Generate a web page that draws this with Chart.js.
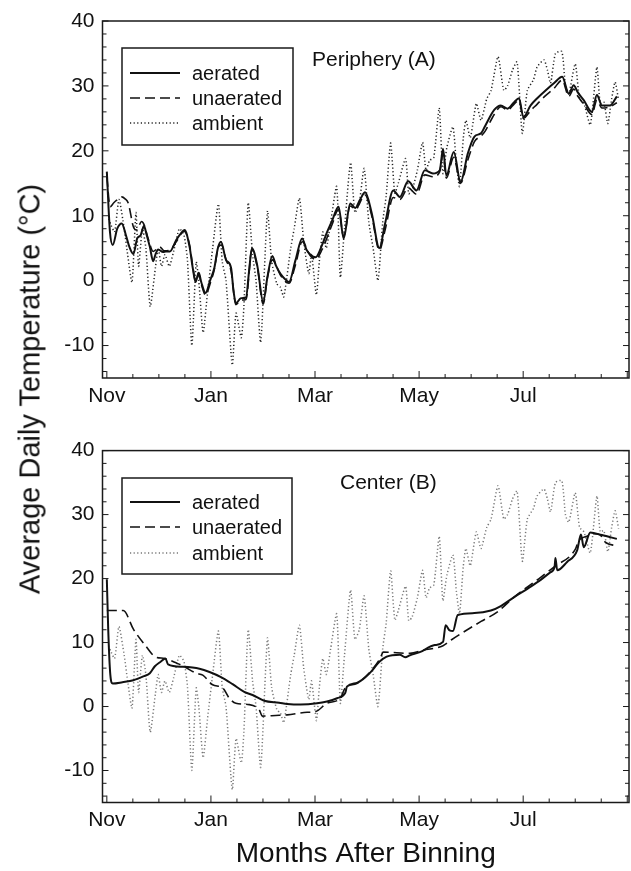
<!DOCTYPE html>
<html>
<head>
<meta charset="utf-8">
<script src="https://cdn.jsdelivr.net/npm/chart.js@4"></script>
<style>
  body { margin: 0; background: #fff; width: 631px; height: 871px; position: relative; overflow: hidden; }
  .panel { position: absolute; left: 0; }
  #top { top: 0; }
  #bottom { top: 430px; }
  #ytitle {
    position: absolute; left: 30px; top: 389px;
    transform: translate(-50%, -50%) rotate(-90deg);
    white-space: nowrap; font: 29px "Liberation Sans", Arial, sans-serif; color: #111;
  }
</style>
</head>
<body>
<div class="panel" id="top"><canvas id="chartA" width="631" height="430"></canvas></div>
<div class="panel" id="bottom"><canvas id="chartB" width="631" height="441"></canvas></div>
<div id="ytitle">Average Daily Temperature (°C)</div>
<script>
// days after binning (x) and average daily temperature (y)
const monthDays = [0, 60, 120, 180, 240];
const monthNames = ["Nov", "Jan", "Mar", "May", "Jul"];
const tempTicks = [-10, 0, 10, 20, 30, 40];

const ambientDays = [1, 2.5, 4.5, 7, 10, 12, 14.5, 16.8, 18.3, 20.5, 22.5, 25, 28, 29.6, 31.5, 33.5, 36, 38.5, 41.8, 44.5,
  46.5, 49, 51.5, 53, 55.5, 58, 61, 64.3, 66.5, 68.7, 72.3, 74.5, 77.5, 79, 81.5, 84, 86, 88.7, 92.6, 95,
  98, 100, 102, 106, 108, 111, 113.5, 116.4, 118, 120.8, 122.5, 124.5, 126.5, 129, 132.5, 134.6, 137, 140.5, 143, 145.5,
  148.3, 151, 153.5, 156.3, 159, 161, 163.6, 166, 168, 172.2, 174, 176, 179, 182, 184, 186, 188.5, 191.6, 193.7, 196,
  199.5, 201.5, 203.3, 205.5, 207, 209.5, 213, 215.7, 219, 221.5, 225.5, 228.8, 231, 233.8, 236.5, 239.5, 242.4, 246, 248, 252,
  254, 255.8, 258.6, 262.3, 264.4, 266.3, 270, 272.5, 275, 278.7, 282.5, 284.4, 286.5, 288.8, 291, 293, 295];
const ambientTemps = [9.5, 8.5, 7.5, 12.5, 8, 4, -0.3, 10.5, 2.2, 8, 5, -4, 2, 5, 2.2, 4, 2.2, 4.5, 8, 7,
  3, -10, 2.9, 0, -8, -2, 5, 11.8, 3, 0, -13, -5, -8.8, -4, 12, 4, 0, -9.5, 10.7, 3,
  -0.5, -1, -2.5, 5, 8, 12.7, 6, 1.1, 4, -2.2, 3, 7.5, 5, 9, 14.5, 0.5, 8, 18.2, 10.5, 12,
  17.3, 9, 5, 0, 9, 13, 21.2, 13.5, 15, 18.8, 13.4, 14, 17, 21.3, 17, 18.5, 19, 26.6, 16.5, 20.5,
  23.7, 18, 14.5, 22, 24.7, 22, 27.3, 24.7, 28, 29.3, 34.5, 29.3, 30, 32.4, 33.7, 22.7, 29.3, 31, 32.9, 34,
  32.4, 30.4, 35, 35.3, 29.9, 28.8, 33.4, 28, 27.3, 24, 32.9, 27.3, 27.5, 24.2, 28, 30.6, 27.8];

const periAeratedDays = [0, 1.8, 3.4, 6, 8.6, 11, 13, 15.3, 17.5, 19.5, 21.4, 23, 24.8, 26.7, 28, 29.6, 32.4, 34, 36.3, 40.1,
  42.5, 44.8, 47.7, 49.5, 51.1, 53, 54.4, 56.9, 59.5, 62, 64, 65.8, 68.7, 71.6, 73, 74.4, 77.3, 80.2, 82, 83.6,
  86.8, 90.1, 92.6, 95.4, 97.5, 100.2, 102.5, 105, 108.8, 112.6, 115, 117.4, 120.3, 124.1, 127, 129.8, 133.6, 136.5, 140.3, 143.2,
  146, 148.9, 152.7, 157.1, 160.4, 165.1, 168.9, 173.7, 178.5, 183.3, 188, 191.9, 193.8, 195.7, 200, 203.9, 208.1, 211.9, 215.7, 218,
  223.3, 227.1, 231, 234.8, 237.6, 240.1, 244.3, 248.1, 252.9, 257.7, 262.5, 266.3, 269.1, 271.5, 274.9, 279.6, 282.5, 285.4, 290.1, 294];
const periAeratedTemps = [16.8, 7.5, 5.5, 8, 8.8, 7, 5.2, 4.1, 6.5, 7, 8.4, 7, 5.2, 3, 4, 4.8, 4.4, 4.5, 4.5, 6.3,
  7.2, 7.8, 5.2, 2, -0.2, 1.2, -0.2, -1.9, 0, 2, 5, 6, 3.2, 2, -1.5, -3.5, -2.7, -2.6, 1.5, 5,
  2.2, -3.3, 0.6, 3.8, 2.3, 1, 0.3, -0.2, 3.2, 6.5, 4.8, 4, 3.6, 5.5, 7.5, 9.2, 11.4, 6.5, 11.9, 11.2,
  12.5, 13.6, 10.4, 5, 8.8, 13.9, 12.9, 15.3, 13.9, 17, 16.5, 17, 20.3, 16.2, 19.8, 15.2, 19.6, 22.2, 22.7, 23.8,
  26.3, 27, 26.5, 27.5, 28.1, 25.2, 27, 28.1, 29.3, 30.4, 31.4, 28.8, 30.1, 29, 27.8, 26, 28.6, 27, 27, 28.4];

const periUnaeratedDays = [0, 1.9, 4, 5.7, 8.6, 10.5, 12.4, 15.3, 17.2, 20, 21.5, 23.8, 26.7, 30.5, 33, 36.3, 40, 44.5, 47.7, 49.5,
  51.1, 53, 54.4, 56.9, 59.5, 62, 64.3, 66, 69, 71.6, 74.4, 77.3, 80.2, 83.6, 86.8, 90.1, 92.6, 95.4, 100.2, 105,
  108.8, 112.6, 117.4, 120.3, 124.1, 129.8, 133.6, 136.5, 140.3, 143.2, 148.9, 152.7, 157.1, 160.4, 165.1, 168.9, 173.7, 178.5, 183.3, 188,
  191.9, 193.8, 195.7, 200, 203.9, 208.1, 211.9, 215.7, 218, 223.3, 227.1, 231, 234.8, 237.6, 240.1, 244.3, 248.1, 252.9, 257.7, 262.5,
  266.3, 269.1, 271.5, 274.9, 279.6, 282.5, 285.4, 290.1, 294];
const periUnaeratedTemps = [16, 11.4, 12, 12.4, 12.9, 12.6, 11.9, 8.3, 7.8, 9.1, 8.6, 6.5, 4.5, 5.2, 4.6, 4.7, 6, 7.6, 5.5, 2.3,
  0, 1, -0.5, -2.2, -0.5, 1.8, 5.2, 5.5, 3, 1.5, -3.7, -3, -2.9, 4.7, 2, -3.6, 0.5, 3.2, 0.8, -0.4,
  2.5, 6, 3.8, 3.3, 4.8, 8.6, 11, 6.8, 11.5, 11, 13.2, 10, 4.7, 7.8, 12.8, 12.5, 14.3, 13.3, 16.3, 16,
  16.8, 19.5, 15.8, 19, 15, 18.6, 21.4, 22.3, 23, 25.6, 26.8, 26.3, 27.2, 27.8, 25, 26.2, 27.2, 28.5, 29.6, 30.9,
  28.4, 29.5, 28.4, 27.2, 25.6, 27.8, 26.6, 26.8, 27.4];

const centerAeratedDays = [0, 0.8, 2, 3.4, 9, 15.3, 21, 24.8, 27.7, 31, 33.8, 35.3, 43.9, 53.4, 59.2, 65.8, 72.5, 79.2, 84, 90.7,
  99.3, 104, 111.7, 121.2, 126.9, 132.7, 137.4, 138.4, 144.1, 151.8, 157.1, 161.3, 168.9, 172, 174.7, 180.4, 189, 193.8, 195.3, 197.6,
  199.5, 202.3, 211.9, 221.4, 227.1, 234.8, 242.4, 250.1, 255.8, 258.1, 258.6, 259.6, 265.3, 271.1, 273.3, 274.9, 278.7, 285.4, 294];
const centerAeratedTemps = [19.9, 12, 5, 3.6, 3.8, 4.1, 4.7, 5.2, 6.3, 7, 7.5, 6.6, 6.2, 5.9, 5.4, 4.6, 3.5, 2.3, 1.8, 0.9,
  0.6, 0.4, 0.3, 0.5, 0.8, 1.3, 2.1, 3.1, 3.7, 5.3, 7, 7.8, 8.1, 7.7, 8, 8.5, 9.6, 10.1, 12.7, 11.9,
  11.8, 14.3, 14.6, 15, 15.7, 17.1, 18.4, 19.8, 21, 21.8, 23.2, 21.3, 22.6, 24.4, 26.9, 24.9, 27.2, 26.8, 26.2];

const centerUnaeratedDays = [0, 9.5, 15.3, 22.9, 27.7, 33.4, 40.1, 44.8, 51.5, 55.3, 61, 66.8, 70.6, 74.4, 82.1, 87.8, 89.7, 97.3, 104, 115.5,
  120.3, 126.9, 134.6, 137.4, 144.1, 151.8, 157.5, 159.4, 174.7, 182.3, 193.8, 198.5, 215.7, 225.2, 234.8, 250.1, 257.7, 270.1, 272, 276.8,
  280.6, 284.4, 287.3, 294];
const centerUnaeratedTemps = [15, 15, 12.1, 9.3, 7.8, 7.5, 6.8, 6.2, 5.2, 4.9, 3.4, 2.9, 1.3, 0.5, 0.3, -0.5, -1.5, -1.4, -1.3, -0.9,
  -0.8, 0.5, 1.3, 2.9, 3.6, 5.4, 7.5, 8.5, 8.3, 8.8, 9.5, 10.4, 13.3, 14.8, 17.1, 20.2, 21.8, 24.6, 25.9, 26.6,
  27, 26.8, 25.7, 25.1];

const FONT = '"Liberation Sans", Arial, Helvetica, sans-serif';
const INK = "#111";

function toPoints(days, temps) {
  return days.map((d, i) => ({ x: d, y: temps[i] }));
}

// frame with inward ticks, legend box and panel label
const panelDecor = {
  id: "panelDecor",
  afterDatasetsDraw(chart, args, opts) {
    const { ctx, chartArea: a } = chart;
    const x = chart.scales.x;
    const y = chart.scales.y;
    ctx.save();
    ctx.strokeStyle = "#1a1a1a";
    ctx.lineWidth = 1.5;
    ctx.strokeRect(a.left, a.top, a.right - a.left, a.bottom - a.top);

    ctx.lineWidth = 1;
    ctx.beginPath();
    for (let v = -14; v <= 40; v += 2) {
      const py = y.getPixelForValue(v);
      const len = v % 10 === 0 ? 6 : 4;
      ctx.moveTo(a.left, py); ctx.lineTo(a.left + len, py);
      ctx.moveTo(a.right, py); ctx.lineTo(a.right - len, py);
    }
    for (let d = 0; d <= 300; d += 15) {
      const px = x.getPixelForValue(d);
      const len = d % 60 === 0 ? 7 : 4;
      ctx.moveTo(px, a.bottom); ctx.lineTo(px, a.bottom - len);
    }
    ctx.stroke();

    // legend
    const b = opts.box;
    ctx.fillStyle = "#fff";
    ctx.fillRect(b[0], b[1], b[2] - b[0], b[3] - b[1]);
    ctx.lineWidth = 1.5;
    ctx.strokeStyle = "#1a1a1a";
    ctx.strokeRect(b[0], b[1], b[2] - b[0], b[3] - b[1]);
    ctx.font = "20px " + FONT;
    ctx.textBaseline = "middle";
    ctx.textAlign = "left";
    chart.data.datasets.forEach((ds, i) => {
      const ry = opts.rows[i];
      ctx.save();
      ctx.strokeStyle = ds.borderColor;
      ctx.lineWidth = ds.borderWidth;
      ctx.setLineDash(ds.borderDash || []);
      ctx.beginPath();
      ctx.moveTo(b[0] + 8, ry);
      ctx.lineTo(b[0] + 58, ry);
      ctx.stroke();
      ctx.restore();
      ctx.fillStyle = INK;
      ctx.fillText(ds.label, b[0] + 70, ry + 1);
    });

    ctx.font = "21px " + FONT;
    ctx.fillStyle = INK;
    ctx.fillText(opts.title, opts.titleX, opts.titleY);
    ctx.restore();
  }
};

function makeChart(id, aerated, unaerated, ambientColor, decor, padTop, xHeight, showTitle, tickPad) {
  const ctx = document.getElementById(id);
  return new Chart(ctx, {
    type: "line",
    data: {
      datasets: [
        {
          label: "aerated",
          data: aerated,
          borderColor: "#111",
          borderWidth: 2,
          pointRadius: 0,
          cubicInterpolationMode: "monotone",
        },
        {
          label: "unaerated",
          data: unaerated,
          borderColor: "#111",
          borderWidth: 1.6,
          borderDash: [10, 5],
          pointRadius: 0,
          cubicInterpolationMode: "monotone",
        },
        {
          label: "ambient",
          data: toPoints(ambientDays, ambientTemps),
          borderColor: ambientColor,
          borderWidth: 1.5,
          borderDash: [1.2, 2.4],
          pointRadius: 0,
          tension: 0.2,
        },
      ],
    },
    options: {
      responsive: false,
      animation: false,
      events: [],
      layout: { padding: { top: padTop, right: 2, left: 0, bottom: 0 } },
      plugins: {
        legend: { display: false },
        tooltip: { enabled: false },
        panelDecor: decor,
      },
      scales: {
        x: {
          type: "linear",
          min: -2.5,
          max: 301,
          afterBuildTicks: (s) => { s.ticks = monthDays.map((v) => ({ value: v })); },
          afterFit: (s) => { s.height = xHeight; },
          ticks: {
            callback: (v, i) => monthNames[i],
            font: { size: 21, family: FONT },
            color: INK,
            padding: tickPad,
            maxRotation: 0,
            autoSkip: false,
          },
          grid: { display: false, drawTicks: false },
          border: { display: false },
          title: {
            display: showTitle,
            text: "Months After Binning",
            font: { size: 28, family: FONT },
            color: INK,
            padding: { top: 0, bottom: 0 },
          },
        },
        y: {
          min: -15,
          max: 40,
          afterBuildTicks: (s) => { s.ticks = tempTicks.map((v) => ({ value: v })); },
          afterFit: (s) => { s.width = 102.5; },
          ticks: {
            font: { size: 21, family: FONT },
            color: INK,
            padding: 8,
          },
          grid: { display: false, drawTicks: false },
          border: { display: false },
        },
      },
    },
    plugins: [panelDecor],
  });
}

makeChart(
  "chartA",
  toPoints(periAeratedDays, periAeratedTemps),
  toPoints(periUnaeratedDays, periUnaeratedTemps),
  "#222",
  { box: [122, 48, 293, 145], rows: [73, 98, 123], title: "Periphery (A)", titleX: 312, titleY: 60 },
  21, 52, false, 6
);

makeChart(
  "chartB",
  toPoints(centerAeratedDays, centerAeratedTemps),
  toPoints(centerUnaeratedDays, centerUnaeratedTemps),
  "#777",
  { box: [122, 48, 292, 144], rows: [72, 97, 123], title: "Center (B)", titleX: 340, titleY: 53 },
  17, 68.5, true, 5
);
</script>
</body>
</html>
